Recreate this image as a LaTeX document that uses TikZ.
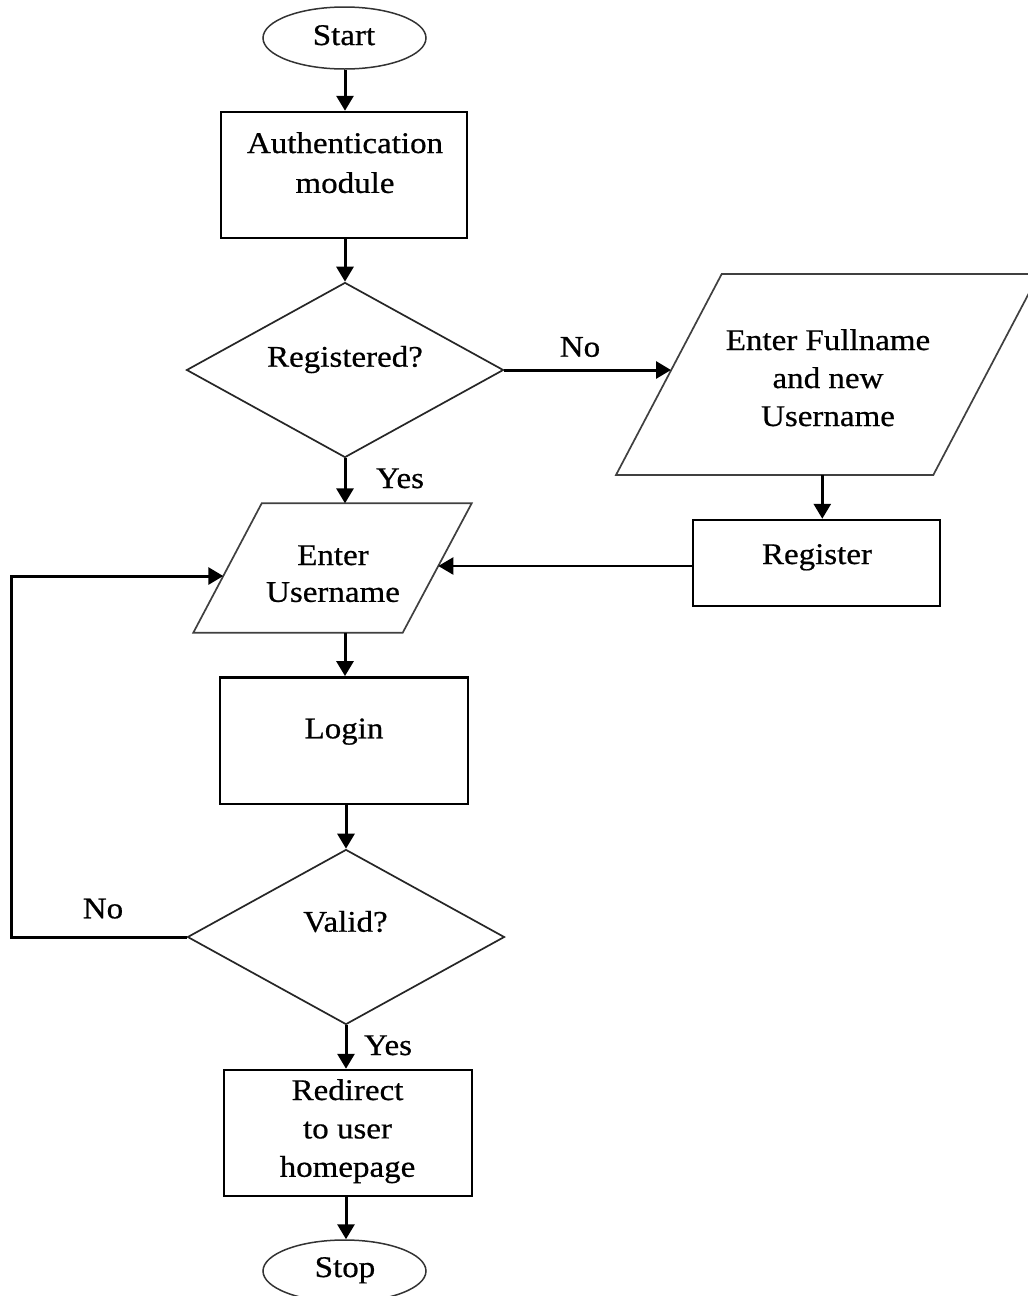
\documentclass[tikz,border=0pt]{standalone}
\usepackage{fontspec}
\setmainfont{Liberation Serif}[FakeStretch=1.1,FakeBold=0.6]
\usetikzlibrary{shapes.geometric,arrows.meta}
% centred multi-line label whose baseline is that of its first line
\newcommand\mlines[2][1]{{\def\arraystretch{#1}\begin{tabular}[t]{@{}c@{}}#2\end{tabular}}}
\begin{document}
\begin{tikzpicture}[x=1pt,y=-1pt,
  font=\fontsize{30}{38}\selectfont,
  procbox/.style={draw, line width=2.5pt, rectangle, inner sep=0pt},
  decbox/.style={draw=black!85, line width=1.7pt, diamond, inner sep=0pt,
    minimum width=317pt, minimum height=175pt},
  iobox/.style={draw=black!75, line width=1.7pt, line join=miter},
  termbox/.style={draw=black!80, line width=1.5pt, ellipse, inner sep=0pt,
    minimum width=163pt, minimum height=62pt},
  lbl/.style={anchor=base, inner sep=0pt},
  flow/.style={line width=3pt, -{Triangle[length=15pt,width=17pt]}},
]
\useasboundingbox (0,0) rectangle (1028,1296);
\clip (0,0) rectangle (1028,1296);
\fill[white] (0,0) rectangle (1028,1296);

% process boxes, decisions and terminals
\node[termbox] (start) at (344.5,38) {};
\node[procbox, minimum width=246pt, minimum height=126pt] (auth) at (344,175) {};
\node[decbox] (reg) at (345,370) {};
\node[procbox, minimum width=247pt, minimum height=86pt] (register) at (816.7,563) {};
\node[procbox, minimum width=247.7pt, minimum height=126.7pt] (login) at (344,740.7) {};
\node[decbox] (valid) at (346,937) {};
\node[procbox, minimum width=247.7pt, minimum height=126pt] (redir) at (348,1133) {};
\node[termbox] (stop) at (344.5,1271) {};

% input/output parallelograms
\draw[iobox] (721.7,274) -- (1039,274) -- (933.3,475) -- (616,475) -- cycle;
\draw[iobox] (261.7,503.3) -- (471.7,503.3) -- (402.7,632.7) -- (193.3,632.7) -- cycle;
\coordinate (fullin) at (671,371);
\coordinate (fullout) at (822.3,475);
\coordinate (usertop) at (345,503.3);
\coordinate (userright) at (438.3,566);
\coordinate (userleft) at (223.3,576);
\coordinate (userbottom) at (345,632.7);

% texts
\node[lbl] (tstart) at (344,45) {Start};
\node[lbl] (tauth) at (345,153) {\mlines[1.05]{Authentication\\module}};
\node[lbl] (treg) at (345,366.7) {Registered?};
\node[lbl] (tfull) at (828,350) {\mlines{Enter Fullname\\and new\\Username}};
\node[lbl] (tregister) at (817,564) {Register};
\node[lbl] (tuser) at (333,565) {\mlines[0.97]{Enter\\Username}};
\node[lbl] (tlogin) at (344,738.3) {Login};
\node[lbl] (tvalid) at (345.5,931.7) {Valid?};
\node[lbl] (tredir) at (347.5,1100) {\mlines[1.01]{Redirect\\to user\\homepage}};
\node[lbl] (tstop) at (345,1277) {Stop};
\node[lbl] (noa) at (580,356.7) {No};
\node[lbl] (yesa) at (400,488) {Yes};
\node[lbl] (nob) at (103,918.3) {No};
\node[lbl] (yesb) at (388,1055) {Yes};

% connectors
\coordinate (loop) at (11,937);
\draw[flow] (start.south -| reg.north) -- (auth.north -| reg.north);
\draw[flow] (auth.south -| reg.north) -- (reg.north);
\draw[flow] (reg.east) -- (reg.east -| fullin);
\draw[flow] (reg.south) -- (usertop);
\draw[flow] (fullout) -- (fullout |- register.north);
\draw[flow, line width=2.3pt] (register.west |- userright) -- (userright);
\draw[flow] (userbottom) -- (userbottom |- login.north);
\draw[flow] (login.south -| valid.north) -- (valid.north);
\draw[flow] (valid.west) -- (loop) |- (userleft);
\draw[flow] (valid.south) -- (valid.south |- redir.north);
\draw[flow] (redir.south -| valid.south) -- (stop.north -| valid.south);
\end{tikzpicture}
\end{document}
